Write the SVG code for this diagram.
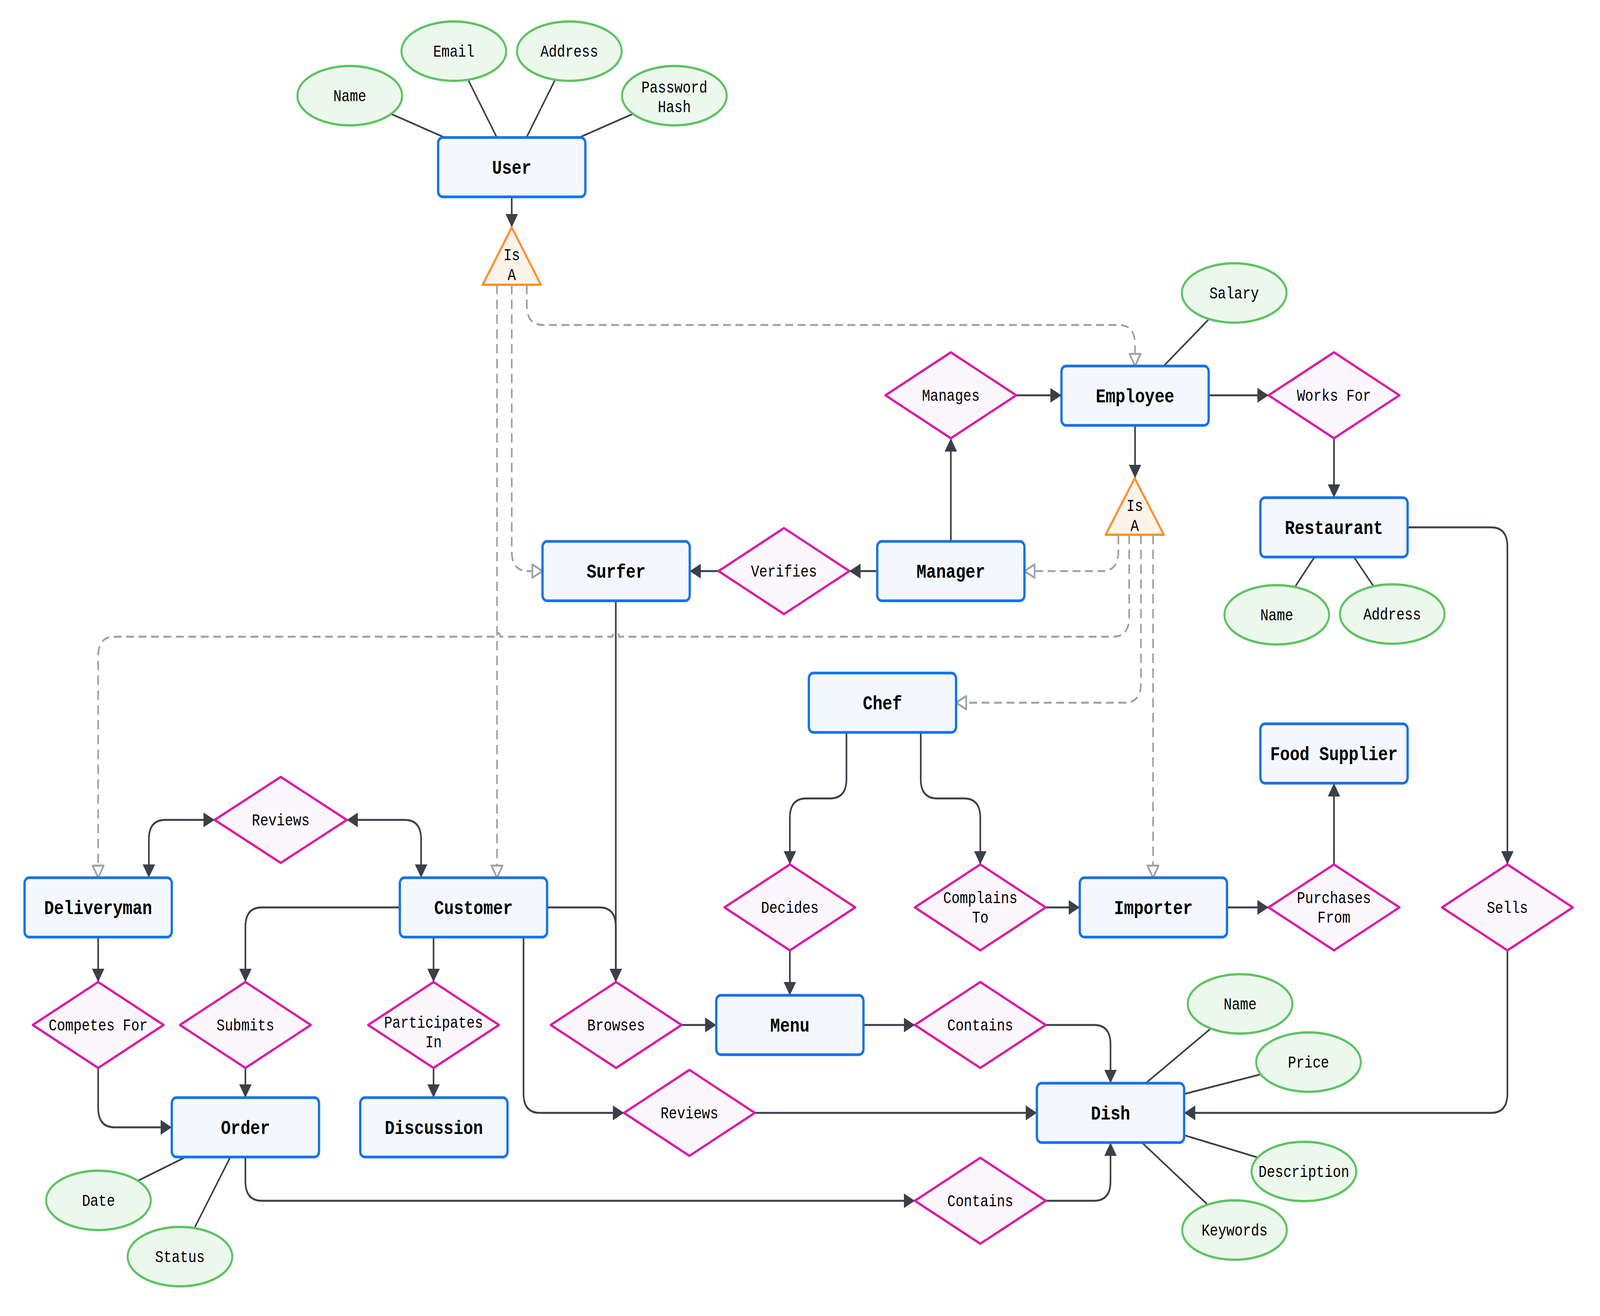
<svg xmlns="http://www.w3.org/2000/svg" width="4890" height="3369" viewBox="0 0 4890 3369" preserveAspectRatio="none">
<style>
svg{width:100vw;height:100vh;display:block}
.ent rect{fill:#f4f8fe;stroke:#1672e6;stroke-width:7}
.rel polygon{fill:#fcf6fd;stroke:#d91ca6;stroke-width:6;stroke-linejoin:round}
.att ellipse{fill:#edf8ed;stroke:#5cc461;stroke-width:6}
.isa polygon{fill:#fdf3e9;stroke:#f7922e;stroke-width:6;stroke-linejoin:round}
text{font-family:"Liberation Mono","DejaVu Sans Mono",monospace;font-size:42px;text-anchor:middle;fill:#000}
.ent text{font-weight:bold;font-size:50px}
.e{fill:none;stroke:#3b4048;stroke-width:5}
.l{fill:none;stroke:#3b4048;stroke-width:4.5}
.d{fill:none;stroke:#9ba1a9;stroke-width:5;stroke-dasharray:24 14}
</style>
<defs>
<marker id="ar" markerUnits="userSpaceOnUse" markerWidth="34" markerHeight="38" viewBox="0 0 34 38" refX="34" refY="19" orient="auto-start-reverse"><path d="M0,0 L34,19 L0,38 z" fill="#3b4048"/></marker>
<marker id="ho" markerUnits="userSpaceOnUse" markerWidth="38" markerHeight="40" viewBox="0 0 38 40" refX="34" refY="20" orient="auto"><path d="M3,3 L34,20 L3,37 z" fill="#ffffff" stroke="#9ba1a9" stroke-width="5" stroke-linejoin="round"/></marker>
</defs>
<rect width="4890" height="3369" fill="#ffffff"/>
<g id="connectors">
<line class="l" x1="1069" y1="245" x2="1564" y2="428"/>
<line class="l" x1="1387" y1="131" x2="1564" y2="428"/>
<line class="l" x1="1740" y1="131" x2="1564" y2="428"/>
<line class="l" x1="2061" y1="245" x2="1564" y2="428"/>
<line class="l" x1="3772" y1="750" x2="3469" y2="1013"/>
<line class="l" x1="3902" y1="1574" x2="4077" y2="1350"/>
<line class="l" x1="4255" y1="1572" x2="4077" y2="1350"/>
<line class="l" x1="301" y1="3073" x2="750" y2="2886"/>
<line class="l" x1="550" y1="3217" x2="750" y2="2886"/>
<line class="l" x1="3790" y1="2570" x2="3394" y2="2849"/>
<line class="l" x1="3999" y1="2719" x2="3394" y2="2849"/>
<line class="l" x1="3985" y1="2999" x2="3394" y2="2849"/>
<line class="l" x1="3773" y1="3149" x2="3394" y2="2849"/>
<path class="d" marker-end="url(#ho)" d="M1519,729 V2247"/>
<path class="d" marker-end="url(#ho)" d="M1564,729 V1412 Q1564,1462 1614,1462 H1658"/>
<path class="d" marker-end="url(#ho)" d="M1610,729 V782 Q1610,832 1660,832 H3419 Q3469,832 3469,882 V937"/>
<path class="d" marker-end="url(#ho)" d="M3418,1369 V1412 Q3418,1462 3368,1462 H3131"/>
<path class="d" marker-end="url(#ho)" d="M3451,1369 V1580 Q3451,1630 3401,1630 H1892 A10,10 0 0 0 1872,1630 H1529 A10,10 0 0 0 1509,1630 H350 Q300,1630 300,1680 V2247"/>
<path class="d" marker-end="url(#ho)" d="M3487,1369 V1749 Q3487,1799 3437,1799 H2922"/>
<path class="d" marker-end="url(#ho)" d="M3524,1369 V2247"/>
<path class="e" marker-end="url(#ar)" d="M1564,504 V582"/>
<path class="e" marker-end="url(#ar)" d="M3469,1089 V1224"/>
<path class="e" marker-end="url(#ar)" d="M3106,1012 H3244"/>
<path class="e" marker-end="url(#ar)" d="M2906,1386 V1122"/>
<path class="e" marker-end="url(#ar)" d="M3694,1012 H3877"/>
<path class="e" marker-end="url(#ar)" d="M4077,1122 V1274"/>
<path class="e" marker-end="url(#ar)" d="M2681,1462 H2596"/>
<path class="e" marker-end="url(#ar)" d="M2196,1462 H2108"/>
<path class="e" marker-end="url(#ar)" d="M4302,1350 H4557 Q4607,1350 4607,1400 V2213"/>
<path class="e" marker-end="url(#ar)" d="M2587,1875 V1994 Q2587,2044 2537,2044 H2464 Q2414,2044 2414,2094 V2213"/>
<path class="e" marker-end="url(#ar)" d="M2814,1875 V1994 Q2814,2044 2864,2044 H2946 Q2996,2044 2996,2094 V2213"/>
<path class="e" marker-end="url(#ar)" d="M4077,2213 V2005"/>
<path class="e" marker-end="url(#ar)" d="M3750,2323 H3877"/>
<path class="e" marker-end="url(#ar)" d="M3196,2323 H3300"/>
<path class="e" marker-start="url(#ar)" marker-end="url(#ar)" d="M656,2099 H505 Q455,2099 455,2149 V2247"/>
<path class="e" marker-start="url(#ar)" marker-end="url(#ar)" d="M1060,2099 H1237 Q1287,2099 1287,2149 V2247"/>
<path class="e" marker-end="url(#ar)" d="M300,2399 V2514"/>
<path class="e" marker-end="url(#ar)" d="M300,2734 V2836 Q300,2886 350,2886 H525"/>
<path class="e" marker-end="url(#ar)" d="M1222,2323 H800 Q750,2323 750,2373 V2514"/>
<path class="e" marker-end="url(#ar)" d="M750,2734 V2810"/>
<path class="e" marker-end="url(#ar)" d="M1325,2399 V2514"/>
<path class="e" marker-end="url(#ar)" d="M1325,2734 V2810"/>
<path class="e" marker-end="url(#ar)" d="M1672,2323 H1832 Q1882,2323 1882,2373 V2514"/>
<path class="e" marker-end="url(#ar)" d="M1882,1538 V2514"/>
<path class="e" marker-end="url(#ar)" d="M2083,2624 H2189"/>
<path class="e" marker-end="url(#ar)" d="M2414,2433 V2548"/>
<path class="e" marker-end="url(#ar)" d="M2639,2624 H2796"/>
<path class="e" marker-end="url(#ar)" d="M3196,2624 H3344 Q3394,2624 3394,2674 V2773"/>
<path class="e" marker-end="url(#ar)" d="M1600,2399 V2799 Q1600,2849 1650,2849 H1907"/>
<path class="e" marker-end="url(#ar)" d="M2307,2849 H3169"/>
<path class="e" marker-end="url(#ar)" d="M750,2962 V3024 Q750,3074 800,3074 H2796"/>
<path class="e" marker-end="url(#ar)" d="M3196,3074 H3344 Q3394,3074 3394,3024 V2925"/>
<path class="e" marker-end="url(#ar)" d="M4607,2433 V2799 Q4607,2849 4557,2849 H3619"/>
</g>
<g id="user" class="ent"><rect x="1339" y="352" width="450" height="152" rx="14"/><text x="1564" y="445">User</text></g>
<g id="employee" class="ent"><rect x="3244" y="937" width="450" height="152" rx="14"/><text x="3469" y="1030">Employee</text></g>
<g id="restaurant" class="ent"><rect x="3852" y="1274" width="450" height="152" rx="14"/><text x="4077" y="1367">Restaurant</text></g>
<g id="surfer" class="ent"><rect x="1658" y="1386" width="450" height="152" rx="14"/><text x="1883" y="1479">Surfer</text></g>
<g id="manager" class="ent"><rect x="2681" y="1386" width="450" height="152" rx="14"/><text x="2906" y="1479">Manager</text></g>
<g id="chef" class="ent"><rect x="2472" y="1723" width="450" height="152" rx="14"/><text x="2697" y="1816">Chef</text></g>
<g id="food-supplier" class="ent"><rect x="3852" y="1853" width="450" height="152" rx="14"/><text x="4077" y="1946">Food Supplier</text></g>
<g id="deliveryman" class="ent"><rect x="75" y="2247" width="450" height="152" rx="14"/><text x="300" y="2340">Deliveryman</text></g>
<g id="customer" class="ent"><rect x="1222" y="2247" width="450" height="152" rx="14"/><text x="1447" y="2340">Customer</text></g>
<g id="importer" class="ent"><rect x="3300" y="2247" width="450" height="152" rx="14"/><text x="3525" y="2340">Importer</text></g>
<g id="menu" class="ent"><rect x="2189" y="2548" width="450" height="152" rx="14"/><text x="2414" y="2641">Menu</text></g>
<g id="order" class="ent"><rect x="525" y="2810" width="450" height="152" rx="14"/><text x="750" y="2903">Order</text></g>
<g id="discussion" class="ent"><rect x="1101" y="2810" width="450" height="152" rx="14"/><text x="1326" y="2903">Discussion</text></g>
<g id="dish" class="ent"><rect x="3169" y="2773" width="450" height="152" rx="14"/><text x="3394" y="2866">Dish</text></g>
<g id="rel-manages" class="rel"><polygon points="2906,902 3106,1012 2906,1122 2706,1012"/><text x="2906" y="1026">Manages</text></g>
<g id="rel-works-for" class="rel"><polygon points="4077,902 4277,1012 4077,1122 3877,1012"/><text x="4077" y="1026">Works For</text></g>
<g id="rel-verifies" class="rel"><polygon points="2396,1352 2596,1462 2396,1572 2196,1462"/><text x="2396" y="1476">Verifies</text></g>
<g id="rel-reviews-delivery" class="rel"><polygon points="858,1989 1060,2099 858,2209 656,2099"/><text x="858" y="2113">Reviews</text></g>
<g id="rel-decides" class="rel"><polygon points="2414,2213 2614,2323 2414,2433 2214,2323"/><text x="2414" y="2337">Decides</text></g>
<g id="rel-complains" class="rel"><polygon points="2996,2213 3196,2323 2996,2433 2796,2323"/><text x="2996" y="2312">Complains</text><text x="2996" y="2362">To</text></g>
<g id="rel-purchases" class="rel"><polygon points="4077,2213 4277,2323 4077,2433 3877,2323"/><text x="4077" y="2312">Purchases</text><text x="4077" y="2362">From</text></g>
<g id="rel-sells" class="rel"><polygon points="4607,2213 4807,2323 4607,2433 4407,2323"/><text x="4607" y="2337">Sells</text></g>
<g id="rel-competes" class="rel"><polygon points="300,2514 500,2624 300,2734 100,2624"/><text x="300" y="2638">Competes For</text></g>
<g id="rel-submits" class="rel"><polygon points="750,2514 950,2624 750,2734 550,2624"/><text x="750" y="2638">Submits</text></g>
<g id="rel-participates" class="rel"><polygon points="1325,2514 1525,2624 1325,2734 1125,2624"/><text x="1325" y="2631">Participates</text><text x="1325" y="2681">In</text></g>
<g id="rel-browses" class="rel"><polygon points="1883,2514 2083,2624 1883,2734 1683,2624"/><text x="1883" y="2638">Browses</text></g>
<g id="rel-contains-menu" class="rel"><polygon points="2996,2514 3196,2624 2996,2734 2796,2624"/><text x="2996" y="2638">Contains</text></g>
<g id="rel-reviews-dish" class="rel"><polygon points="2107,2739 2307,2849 2107,2959 1907,2849"/><text x="2107" y="2863">Reviews</text></g>
<g id="rel-contains-order" class="rel"><polygon points="2996,2964 3196,3074 2996,3184 2796,3074"/><text x="2996" y="3088">Contains</text></g>
<g id="isa-user" class="isa"><polygon points="1564,582 1653,729 1475,729"/><text x="1564" y="666">Is</text><text x="1564" y="717">A</text></g>
<g id="isa-employee" class="isa"><polygon points="3468,1224 3557,1369 3379,1369"/><text x="3468" y="1308">Is</text><text x="3468" y="1359">A</text></g>
<g id="att-user-name" class="att"><ellipse cx="1069" cy="245" rx="160" ry="76"/><text x="1069" y="259">Name</text></g>
<g id="att-user-email" class="att"><ellipse cx="1387" cy="131" rx="160" ry="76"/><text x="1387" y="145">Email</text></g>
<g id="att-user-address" class="att"><ellipse cx="1740" cy="131" rx="160" ry="76"/><text x="1740" y="145">Address</text></g>
<g id="att-user-password" class="att"><ellipse cx="2061" cy="245" rx="160" ry="76"/><text x="2061" y="237">Password</text><text x="2061" y="287">Hash</text></g>
<g id="att-salary" class="att"><ellipse cx="3772" cy="750" rx="160" ry="76"/><text x="3772" y="764">Salary</text></g>
<g id="att-rest-name" class="att"><ellipse cx="3902" cy="1574" rx="160" ry="76"/><text x="3902" y="1588">Name</text></g>
<g id="att-rest-address" class="att"><ellipse cx="4255" cy="1572" rx="160" ry="76"/><text x="4255" y="1586">Address</text></g>
<g id="att-date" class="att"><ellipse cx="301" cy="3073" rx="160" ry="76"/><text x="301" y="3087">Date</text></g>
<g id="att-status" class="att"><ellipse cx="550" cy="3217" rx="160" ry="76"/><text x="550" y="3231">Status</text></g>
<g id="att-dish-name" class="att"><ellipse cx="3790" cy="2570" rx="160" ry="76"/><text x="3790" y="2584">Name</text></g>
<g id="att-price" class="att"><ellipse cx="3999" cy="2719" rx="160" ry="76"/><text x="3999" y="2733">Price</text></g>
<g id="att-description" class="att"><ellipse cx="3985" cy="2999" rx="160" ry="76"/><text x="3985" y="3013">Description</text></g>
<g id="att-keywords" class="att"><ellipse cx="3773" cy="3149" rx="160" ry="76"/><text x="3773" y="3163">Keywords</text></g>
</svg>
